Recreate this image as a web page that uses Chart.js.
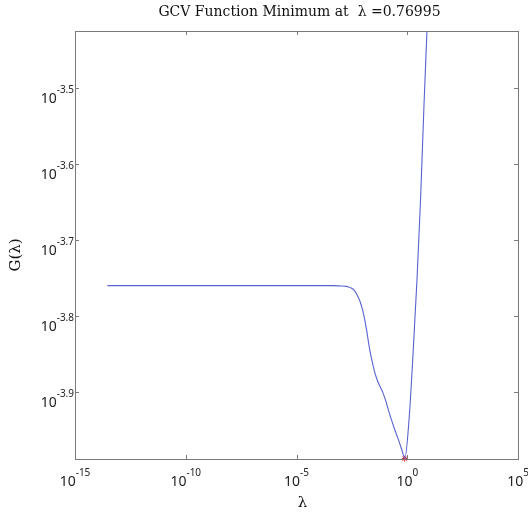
<!DOCTYPE html>
<html>
<head>
<meta charset="utf-8">
<script src="https://cdn.jsdelivr.net/npm/chart.js@4.4.0/dist/chart.umd.min.js"></script>
<style>
  html, body { margin: 0; padding: 0; background: #fff; }
  #gcv-chart { display: block; }
</style>
</head>
<body>
<canvas id="gcv-chart" width="528" height="514"></canvas>
<script>
// values, as log10 of lambda and log10 of G(lambda)
var lambda_log = [-13.54, -10, -7, -5, -4, -3.4, -3.0, -2.75, -2.55, -2.4, -2.27, -2.13, -2.0, -1.85, -1.72,
    -1.6, -1.48, -1.36, -1.23, -1.1, -0.98, -0.85, -0.7, -0.55, -0.4, -0.25, -0.11,
    0.08, 0.26, 0.44, 0.6, 0.756, 0.89];
var gcv_log = [-3.760, -3.760, -3.760, -3.760, -3.760, -3.760, -3.7605, -3.761, -3.763, -3.766, -3.772, -3.781, -3.794, -3.816, -3.840,
    -3.858, -3.873, -3.884, -3.893, -3.901, -3.911, -3.924, -3.938, -3.951, -3.963, -3.976, -3.988,
    -3.937, -3.851, -3.752, -3.647, -3.522, -3.4245];

var min_lambda = 0.76995;
var min_gcv_log = -3.988;

var x_tick_exps = [-15, -10, -5, 0, 5];
var y_tick_exps = [-3.9, -3.8, -3.7, -3.6, -3.5];

var title_text = "GCV Function Minimum at  \u03bb =0.76995";
var x_label = "\u03bb";
var y_label = "G(\u03bb)";

var curve = [];
for (let i = 0; i < lambda_log.length; i++) {
    curve.push({ x: Math.pow(10, lambda_log[i]), y: Math.pow(10, gcv_log[i]) });
}

var axis_color = "#7a7a7a";
var label_font = "'Noto Sans', 'Open Sans', sans-serif";
var serif_font = "'DejaVu Serif', 'Liberation Serif', serif";

function powerLabel(ctx, exp, x, y, align) {
    let base = "10";
    let sup = String(exp);
    ctx.font = "14px " + label_font;
    let bw = ctx.measureText(base).width;
    ctx.font = "10px " + label_font;
    let sw = ctx.measureText(sup).width;
    let left = align === "right" ? x - bw - sw : x - (bw + sw) / 2;
    ctx.textAlign = "left";
    ctx.textBaseline = "alphabetic";
    ctx.font = "14px " + label_font;
    ctx.fillText(base, left, y);
    ctx.font = "10px " + label_font;
    ctx.fillText(sup, left + bw, y - 10);
}

var matlab_axes = {
    id: "matlab_axes",
    afterDraw: function (chart) {
        let ctx = chart.ctx;
        let area = chart.chartArea;
        let xs = chart.scales.x;
        let ys = chart.scales.y;
        ctx.save();
        ctx.strokeStyle = axis_color;
        ctx.lineWidth = 1;
        ctx.strokeRect(Math.round(area.left) + 0.5, Math.round(area.top) + 0.5,
            Math.round(area.right - area.left), Math.round(area.bottom - area.top));

        ctx.fillStyle = "#222";
        ctx.beginPath();
        for (let i = 0; i < x_tick_exps.length; i++) {
            let px = Math.round(xs.getPixelForValue(Math.pow(10, x_tick_exps[i]))) + 0.5;
            ctx.moveTo(px, area.bottom);
            ctx.lineTo(px, area.bottom - 4);
            ctx.moveTo(px, area.top);
            ctx.lineTo(px, area.top + 4);
        }
        for (let i = 0; i < y_tick_exps.length; i++) {
            let py = Math.round(ys.getPixelForValue(Math.pow(10, y_tick_exps[i]))) + 0.5;
            ctx.moveTo(area.left, py);
            ctx.lineTo(area.left + 4, py);
            ctx.moveTo(area.right, py);
            ctx.lineTo(area.right - 4, py);
        }
        ctx.stroke();

        for (let i = 0; i < x_tick_exps.length; i++) {
            let px = xs.getPixelForValue(Math.pow(10, x_tick_exps[i]));
            powerLabel(ctx, x_tick_exps[i], px, area.bottom + 27, "center");
        }
        for (let i = 0; i < y_tick_exps.length; i++) {
            let py = ys.getPixelForValue(Math.pow(10, y_tick_exps[i]));
            powerLabel(ctx, y_tick_exps[i], area.left - 1, py + 15, "right");
        }

        ctx.fillStyle = "#111";
        ctx.textAlign = "center";
        ctx.textBaseline = "middle";
        ctx.font = "14px " + serif_font;
        ctx.fillText(title_text, (area.left + area.right) / 2 + 3, 12);
        ctx.font = "15px " + serif_font;
        ctx.fillText(x_label, (area.left + area.right) / 2 + 6, 503);
        ctx.translate(16, 255);
        ctx.rotate(-Math.PI / 2);
        ctx.fillText(y_label, 0, 0);
        ctx.restore();
    }
};

var chart = new Chart(document.getElementById("gcv-chart"), {
    type: "line",
    data: {
        datasets: [
            {
                data: curve,
                borderColor: "#5862d2",
                borderWidth: 1.1,
                pointRadius: 0,
                cubicInterpolationMode: "monotone",
                fill: false,
            },
            {
                data: [{ x: min_lambda, y: Math.pow(10, min_gcv_log) }],
                showLine: false,
                pointStyle: "star",
                pointRadius: 3,
                borderColor: "#e02020",
                backgroundColor: "#e02020",
                borderWidth: 1,
                clip: false,
            },
        ],
    },
    options: {
        responsive: false,
        animation: false,
        layout: { padding: { left: 75, top: 31, right: 10, bottom: 55 } },
        plugins: { legend: { display: false }, tooltip: { enabled: false }, title: { display: false } },
        scales: {
            x: {
                type: "logarithmic",
                display: false,
                min: 1e-15,
                max: 1e5,
            },
            y: {
                type: "logarithmic",
                display: false,
                min: Math.pow(10, -3.9885),
                max: Math.pow(10, -3.4245),
            },
        },
    },
    plugins: [matlab_axes],
});
</script>
</body>
</html>
